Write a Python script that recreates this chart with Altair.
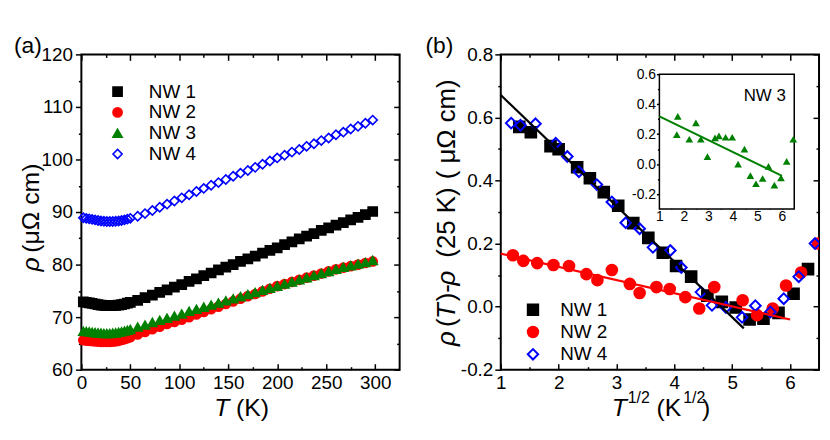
import altair as alt
import pandas as pd

FONT = "Liberation Sans"
W, H = 321, 318

# ---------------- panel (a): rho vs T ----------------
SER_A = ["NW 1", "NW 2", "NW 3", "NW 4"]
STROKE_A = ["black", "#ff0000", "#008000", "#0000ff"]
FILL_A = ["black", "#ff0000", "#008000", "transparent"]
SHAPE_A = ["square", "circle", "triangle-up", "diamond"]

T_a = [2, 5, 8, 11, 14, 17, 20, 23, 26, 29, 32, 35, 38, 41, 44, 47, 50,
       57.5, 65, 72.5, 80, 87.5, 95, 102.5, 110, 117.5, 125,
       132.5, 140, 147.5, 155, 162.5, 170, 177.5, 185, 192.5, 200,
       207.5, 215, 222.5, 230, 237.5, 245, 252.5, 260, 267.5, 275,
       282.5, 290, 297.5]
rho_nw1 = [72.9, 72.8, 72.7, 72.6, 72.5, 72.4, 72.3, 72.25, 72.2, 72.2, 72.2, 72.25, 72.3, 72.4, 72.5, 72.65, 72.8,
           73.2, 73.7, 74.2, 74.7, 75.2, 75.7, 76.2, 76.8, 77.3, 77.9,
           78.4, 79.0, 79.5, 80.0, 80.6, 81.1, 81.6, 82.2, 82.7, 83.2,
           83.8, 84.3, 84.9, 85.4, 85.9, 86.5, 87.0, 87.5, 88.0, 88.5,
           89.0, 89.5, 90.1]
rho_nw2 = [65.6, 65.55, 65.5, 65.45, 65.4, 65.35, 65.3, 65.3, 65.3, 65.3, 65.35, 65.4, 65.5, 65.65, 65.8, 66.0, 66.2,
           66.7, 67.2, 67.7, 68.2, 68.7, 69.1, 69.5, 70.0, 70.5, 71.0,
           71.5, 72.0, 72.5, 73.0, 73.5, 74.0, 74.4, 74.9, 75.4, 75.9,
           76.3, 76.7, 77.1, 77.5, 77.9, 78.3, 78.7, 79.1, 79.4, 79.7,
           80.0, 80.3, 80.6]
rho_nw3 = [67.3, 67.25, 67.2, 67.1, 67.05, 67.0, 66.95, 66.9, 66.9, 66.9, 66.95, 67.0, 67.1, 67.2, 67.35, 67.5, 67.65,
           68.1, 68.5, 69.0, 69.4, 69.8, 70.2, 70.6, 71.1, 71.5, 71.9,
           72.3, 72.7, 73.1, 73.5, 73.9, 74.3, 74.7, 75.1, 75.5, 75.9,
           76.3, 76.7, 77.1, 77.5, 77.9, 78.3, 78.7, 79.1, 79.5, 79.8,
           80.1, 80.4, 80.8]
rho_nw4 = [88.9, 88.8, 88.7, 88.6, 88.5, 88.4, 88.3, 88.25, 88.2, 88.2, 88.2, 88.25, 88.3, 88.4, 88.5, 88.65, 88.8,
           89.2, 89.7, 90.3, 90.9, 91.5, 92.1, 92.7, 93.3, 93.9, 94.5,
           95.1, 95.6, 96.2, 96.8, 97.4, 97.9, 98.5, 99.1, 99.7, 100.3,
           100.8, 101.4, 101.9, 102.5, 103.0, 103.6, 104.1, 104.7, 105.2, 105.8,
           106.3, 106.9, 107.5]

XA_DOMAIN = [0, 325]
YA_DOMAIN = [60, 120]
XA_TICKS = [0, 50, 100, 150, 200, 250, 300]
XA_MINOR = [25, 75, 125, 175, 225, 275]
YA_TICKS = [60, 70, 80, 90, 100, 110, 120]
YA_MINOR = [65, 75, 85, 95, 105, 115]

# ---------------- panel (b): rho(T)-rho(25 K) vs T^1/2 ----------------
SER_B = ["NW 1", "NW 2", "NW 4"]
STROKE_B = ["black", "#ff0000", "#0000ff"]
FILL_B = ["black", "#ff0000", "transparent"]
SHAPE_B = ["square", "circle", "diamond"]

sx_nw1 = [1.32, 1.52, 1.86, 2.00, 2.32, 2.54, 2.78, 3.03, 3.29, 3.55, 3.80, 4.03, 4.29, 4.57,
          4.82, 5.06, 5.30, 5.54, 5.80, 6.06, 6.31]
d_nw1 = [0.570, 0.553, 0.509, 0.499, 0.442, 0.407, 0.363, 0.320, 0.265, 0.218, 0.171, 0.129, 0.095, 0.035,
         0.015, -0.003, -0.041, -0.038, -0.020, 0.041, 0.119]
sx_nw2 = [1.21, 1.39, 1.63, 1.91, 2.18, 2.48, 2.67, 2.92, 3.23, 3.40, 3.69, 3.92, 4.19, 4.43,
          4.69, 5.18, 5.43, 5.70, 5.93, 6.19, 6.48]
d_nw2 = [0.163, 0.145, 0.138, 0.132, 0.129, 0.103, 0.084, 0.116, 0.072, 0.043, 0.062, 0.056, 0.030, -0.006,
         0.062, 0.020, -0.027, -0.006, 0.067, 0.108, 0.200]
sx_nw4 = [1.18, 1.34, 1.60, 1.95, 2.15, 2.35, 2.66, 2.92, 3.16, 3.40, 3.63, 3.93, 4.12, 4.46,
          4.65, 4.89, 5.17, 5.40, 5.66, 5.89, 6.15, 6.43]
d_nw4 = [0.582, 0.575, 0.580, 0.518, 0.476, 0.428, 0.387, 0.332, 0.266, 0.247, 0.188, 0.178, 0.124, 0.046,
         0.004, -0.003, -0.034, 0.003, -0.017, 0.025, 0.095, 0.200]
fit1_x = [1.0, 5.2]
fit1_y = [0.671, -0.069]
fit2_x = [1.0, 6.0]
fit2_y = [0.168, -0.041]

XB_DOMAIN = [1, 6.5]
YB_DOMAIN = [-0.2, 0.8]
XB_TICKS = [1, 2, 3, 4, 5, 6]
XB_MINOR = [1.5, 2.5, 3.5, 4.5, 5.5]
YB_TICKS = [-0.2, 0.0, 0.2, 0.4, 0.6, 0.8]
YB_MINOR = [-0.1, 0.1, 0.3, 0.5, 0.7]

# inset NW 3
sx_nw3 = [1.71, 1.75, 2.22, 2.49, 2.69, 2.96, 3.27, 3.43, 3.70, 3.97, 4.21, 4.47, 4.71, 4.94,
          5.21, 5.45, 5.69, 5.96, 6.19, 6.46]
d_nw3 = [0.197, 0.319, 0.166, 0.275, 0.166, 0.050, 0.175, 0.188, 0.179, 0.179, 0.0, 0.100, -0.077, -0.131,
         -0.096, -0.015, -0.140, -0.092, 0.018, 0.166]
fit3_x = [1.0, 6.0]
fit3_y = [0.318, -0.078]
XI_DOMAIN = [1, 6.5]
YI_DOMAIN = [-0.3, 0.6]
XI_TICKS = [1, 2, 3, 4, 5, 6]
XI_MINOR = [1.5, 2.5, 3.5, 4.5, 5.5]
YI_TICKS = [-0.2, 0.0, 0.2, 0.4, 0.6]
YI_MINOR = [-0.1, 0.1, 0.3, 0.5]

MINUS_EXPR = "replace(format(datum.value, '.1f'), '\u2212', '-')"

# inset placement inside panel (b), in pixels of the plot area
IN_L, IN_R, IN_T, IN_B = 160, 296, 20, 156
TITLE_Y = 365


def axis(orient, values, size, offset=0, labels=False, fmt=None, expr=None, lsize=19, lpad=3):
    kw = dict(orient=orient, values=values, tickSize=size, offset=offset, domain=False,
              grid=False, labels=labels, ticks=True, tickColor="black", tickWidth=1.5)
    if labels:
        kw.update(labelFont=FONT, labelFontSize=lsize, labelColor="black", labelPadding=lpad,
                  labelFlush=False, labelOverlap=False)
        if expr:
            kw["labelExpr"] = expr
        elif fmt:
            kw["format"] = fmt
    return alt.Axis(**kw)


def ghost(df, xf, yf, xs, ys, xax, yax):
    return alt.Chart(df).mark_point(opacity=0).encode(
        x=alt.X(xf, type="quantitative", scale=xs, axis=xax, title=None),
        y=alt.Y(yf, type="quantitative", scale=ys, axis=yax, title=None),
    )


def label(txt, x, y, size=25, italic=False, angle=0):
    return alt.Chart(pd.DataFrame({"t": [txt]})).mark_text(
        font=FONT, fontSize=size, fontStyle="italic" if italic else "normal",
        angle=angle, align="left", baseline="alphabetic", color="black"
    ).encode(x=alt.value(x), y=alt.value(y), text="t:N")


# ---------- build panel (a) ----------
rows = []
for name, vals in zip(SER_A, [rho_nw1, rho_nw2, rho_nw3, rho_nw4]):
    for t, r in zip(T_a, vals):
        rows.append({"series": name, "T": t, "rho": r})
df_a = pd.DataFrame(rows)

xa = alt.Scale(domain=XA_DOMAIN, nice=False, zero=False)
ya = alt.Scale(domain=YA_DOMAIN, nice=False, zero=False)

leg_a = alt.Legend(orient="none", legendX=27, legendY=28, title=None, labelFont=FONT,
                   labelFontSize=19, labelColor="black", symbolSize=85, symbolStrokeWidth=1.6,
                   rowPadding=1.0, labelOffset=22, padding=0, offset=0)

pts_a = alt.Chart(df_a).mark_point(strokeWidth=1.6, opacity=1, fillOpacity=1, size=85).encode(
    x=alt.X("T:Q", scale=xa, axis=axis("bottom", XA_TICKS, 6, -6, True, fmt="d", lpad=4), title=None),
    y=alt.Y("rho:Q", scale=ya, axis=axis("left", YA_TICKS, 6, 0, True, fmt="d", lpad=3), title=None),
    stroke=alt.Stroke("series:N", scale=alt.Scale(domain=SER_A, range=STROKE_A), legend=leg_a),
    fill=alt.Fill("series:N", scale=alt.Scale(domain=SER_A, range=FILL_A), legend=leg_a),
    shape=alt.Shape("series:N", scale=alt.Scale(domain=SER_A, range=SHAPE_A), legend=leg_a),
)

ga1 = ghost(df_a, "T", "rho", xa, ya, axis("top", XA_TICKS, 6, -6), axis("right", YA_TICKS, 6, -6))
ga2 = ghost(df_a, "T", "rho", xa, ya, axis("bottom", XA_MINOR, 3, -3), axis("left", YA_MINOR, 3, 0))
ga3 = ghost(df_a, "T", "rho", xa, ya, axis("top", XA_MINOR, 3, -3), axis("right", YA_MINOR, 3, -3))

texts_a = [
    label("(a)", -68, -1, size=23),
    label("\u03c1", -43, 219, italic=True, angle=270),
    label("(\u03bc\u03a9 cm)", -43, 200, angle=270),
    label("T", 134, TITLE_Y, italic=True),
    label("(K)", 156, TITLE_Y),
]

panel_a = alt.layer(pts_a, ga1, ga2, ga3, *texts_a).resolve_axis(
    x="independent", y="independent").properties(width=W, height=H)

# ---------- build panel (b) ----------
rows = []
for name, xs_, ys_ in zip(SER_B, [sx_nw1, sx_nw2, sx_nw4], [d_nw1, d_nw2, d_nw4]):
    for a, b in zip(xs_, ys_):
        rows.append({"series": name, "sx": a, "d": b})
df_b = pd.DataFrame(rows)

xb = alt.Scale(domain=XB_DOMAIN, nice=False, zero=False)
yb = alt.Scale(domain=YB_DOMAIN, nice=False, zero=False)

leg_b = alt.Legend(orient="none", legendX=23, legendY=248, title=None, labelFont=FONT,
                   labelFontSize=19, labelColor="black", symbolSize=110, symbolStrokeWidth=2,
                   rowPadding=2.5, labelOffset=18, padding=0, offset=0)

pts_b = alt.Chart(df_b).mark_point(strokeWidth=2, opacity=1, fillOpacity=1, clip=True, size=115).encode(
    x=alt.X("sx:Q", scale=xb, axis=axis("bottom", XB_TICKS, 6, -6, True, fmt="d", lpad=4), title=None),
    y=alt.Y("d:Q", scale=yb, axis=axis("left", YB_TICKS, 6, 0, True, expr=MINUS_EXPR, lpad=2), title=None),
    stroke=alt.Stroke("series:N", scale=alt.Scale(domain=SER_B, range=STROKE_B), legend=leg_b),
    fill=alt.Fill("series:N", scale=alt.Scale(domain=SER_B, range=FILL_B), legend=leg_b),
    shape=alt.Shape("series:N", scale=alt.Scale(domain=SER_B, range=SHAPE_B), legend=leg_b),
)

line1 = alt.Chart(pd.DataFrame({"sx": fit1_x, "d": fit1_y})).mark_line(color="black", strokeWidth=2.2).encode(
    x=alt.X("sx:Q", scale=xb, axis=None), y=alt.Y("d:Q", scale=yb, axis=None))
line2 = alt.Chart(pd.DataFrame({"sx": fit2_x, "d": fit2_y})).mark_line(color="#ff0000", strokeWidth=2.2).encode(
    x=alt.X("sx:Q", scale=xb, axis=None), y=alt.Y("d:Q", scale=yb, axis=None))

gb1 = ghost(df_b, "sx", "d", xb, yb, axis("top", XB_TICKS, 6, -6), axis("right", YB_TICKS, 6, -6))
gb2 = ghost(df_b, "sx", "d", xb, yb, axis("bottom", XB_MINOR, 3, -3), axis("left", YB_MINOR, 3, 0))
gb3 = ghost(df_b, "sx", "d", xb, yb, axis("top", XB_MINOR, 3, -3), axis("right", YB_MINOR, 3, -3))

texts_b = [
    label("(b)", -76, -1, size=23),
    label("\u03c1", -46, 294, size=26, italic=True, angle=270),
    label("(", -46, 275, size=26, angle=270),
    label("T", -46, 267, size=26, italic=True, angle=270),
    label(")-", -46, 249, size=26, angle=270),
    label("\u03c1", -46, 233, size=26, italic=True, angle=270),
    label("(25 K)", -46, 205, size=26, angle=270),
    label("( \u03bc\u03a9 cm)", -46, 126, size=26, angle=270),
    label("T", 112, TITLE_Y, italic=True),
    label("1/2", 128, TITLE_Y - 13, size=16),
    label("(K", 157, TITLE_Y),
    label("1/2", 184, TITLE_Y - 13, size=16),
    label(")", 203, TITLE_Y),
]

main_b = alt.layer(pts_b, line1, line2, gb1, gb2, gb3, *texts_b).resolve_axis(
    x="independent", y="independent")

# inset
df_in = pd.DataFrame({"sx": sx_nw3, "d": d_nw3})
xi = alt.Scale(domain=XI_DOMAIN, range=[IN_L, IN_R], nice=False, zero=False)
yi = alt.Scale(domain=YI_DOMAIN, range=[IN_B, IN_T], nice=False, zero=False)

inset_frame = alt.Chart(pd.DataFrame({"x0": [XI_DOMAIN[0]], "x1": [XI_DOMAIN[1]],
                                      "y0": [YI_DOMAIN[0]], "y1": [YI_DOMAIN[1]]})).mark_rect(
    fill="white", stroke="black", strokeWidth=1.5).encode(
    x=alt.X("x0:Q", scale=xi, axis=None), x2="x1:Q",
    y=alt.Y("y0:Q", scale=yi, axis=None), y2="y1:Q")

inset_pts = alt.Chart(df_in).mark_point(shape="triangle-up", filled=True, color="#008000",
                                        size=60, opacity=1).encode(
    x=alt.X("sx:Q", scale=xi,
            axis=axis("bottom", XI_TICKS, 4, (IN_B - 4) - H, True, fmt="d", lsize=14, lpad=1), title=None),
    y=alt.Y("d:Q", scale=yi,
            axis=axis("left", YI_TICKS, 3, -IN_L, True, expr=MINUS_EXPR, lsize=14, lpad=1), title=None),
)
inset_line = alt.Chart(pd.DataFrame({"sx": fit3_x, "d": fit3_y})).mark_line(
    color="#008000", strokeWidth=2).encode(
    x=alt.X("sx:Q", scale=xi, axis=None), y=alt.Y("d:Q", scale=yi, axis=None))
gi1 = ghost(df_in, "sx", "d", xi, yi, axis("top", XI_TICKS, 4, -(IN_T + 4)),
            axis("right", YI_TICKS, 4, (IN_R - 4) - W))
gi2 = ghost(df_in, "sx", "d", xi, yi, axis("bottom", XI_MINOR, 2, (IN_B - 2) - H),
            axis("left", YI_MINOR, 2, -IN_L))
gi3 = ghost(df_in, "sx", "d", xi, yi, axis("top", XI_MINOR, 2, -(IN_T + 2)),
            axis("right", YI_MINOR, 2, (IN_R - 2) - W))

inset = alt.layer(inset_frame, inset_pts, inset_line, gi1, gi2, gi3,
                  label("NW 3", 245, 47, size=17)).resolve_axis(x="independent", y="independent")

panel_b = alt.layer(main_b, inset).resolve_scale(x="independent", y="independent").properties(
    width=W, height=H)

chart = alt.hconcat(panel_a, panel_b, spacing=23).resolve_scale(
    x="independent", y="independent", stroke="independent", fill="independent",
    shape="independent").properties(
    padding={"left": 5, "top": 25, "right": 0, "bottom": 0}).configure_view(
    stroke="black", strokeWidth=2)

chart.save("out.html", embed_options={"renderer": "svg", "actions": False})
